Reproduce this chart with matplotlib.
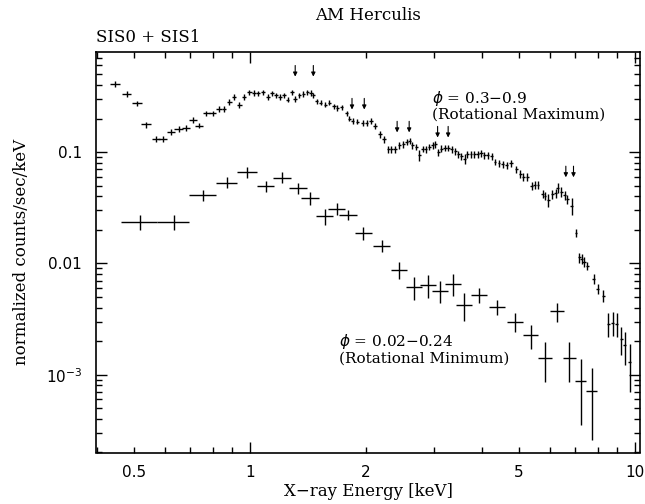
import matplotlib

matplotlib.use("Agg")
import matplotlib.pyplot as plt
from matplotlib.ticker import NullFormatter

# rotational maximum (phi = 0.3-0.9): energy [keV], half bin width, flux, flux error
hi_e = [0.446, 0.478, 0.508, 0.537, 0.570, 0.593, 0.622, 0.652, 0.682, 0.710,
        0.738, 0.769, 0.800, 0.832, 0.856, 0.884, 0.909, 0.938, 0.966,
        0.996, 1.024, 1.051, 1.079, 1.112, 1.139, 1.168, 1.196, 1.225, 1.253,
        1.283, 1.309, 1.343, 1.375, 1.409, 1.440, 1.460, 1.490, 1.526, 1.566,
        1.607, 1.652, 1.685, 1.729, 1.782, 1.810, 1.847, 1.900, 1.962, 2.010,
        2.058, 2.110, 2.177, 2.228, 2.287, 2.330, 2.380, 2.440, 2.500, 2.550,
        2.600, 2.640, 2.700, 2.750, 2.810, 2.860, 2.920, 2.980, 3.030, 3.080,
        3.140, 3.210, 3.270, 3.340, 3.410, 3.470, 3.540, 3.610, 3.670, 3.750,
        3.820, 3.900, 3.980, 4.060, 4.140, 4.240, 4.330, 4.430, 4.530, 4.640,
        4.760, 4.910, 5.030, 5.130, 5.250, 5.390, 5.490, 5.600, 5.750, 5.830,
        5.950, 6.100, 6.220, 6.300, 6.430, 6.560, 6.670, 6.840, 7.030, 7.170,
        7.270, 7.370, 7.520, 7.820, 7.990, 8.260, 8.520, 8.740, 8.960, 9.220,
        9.400, 9.680]
hi_de = [0.013, 0.014, 0.015, 0.016, 0.015, 0.015, 0.015, 0.016, 0.016, 0.017,
         0.017, 0.016, 0.016, 0.014, 0.012, 0.012, 0.012, 0.013, 0.013,
         0.013, 0.013, 0.013, 0.013, 0.013, 0.013, 0.013, 0.013, 0.013, 0.013,
         0.014, 0.014, 0.014, 0.014, 0.014, 0.014, 0.014, 0.014, 0.014, 0.014,
         0.016, 0.016, 0.016, 0.016, 0.016, 0.016, 0.016, 0.016, 0.016, 0.016,
         0.022, 0.022, 0.022, 0.022, 0.022, 0.022, 0.022, 0.022, 0.022, 0.022,
         0.026, 0.026, 0.026, 0.026, 0.026, 0.026, 0.026, 0.026, 0.026, 0.026,
         0.031, 0.031, 0.031, 0.031, 0.031, 0.031, 0.031, 0.031, 0.031, 0.031,
         0.036, 0.036, 0.036, 0.036, 0.036, 0.036, 0.036, 0.036, 0.036, 0.036,
         0.045, 0.045, 0.045, 0.045, 0.045, 0.045, 0.045, 0.045, 0.045, 0.045,
         0.055, 0.055, 0.055, 0.055, 0.055, 0.055, 0.055, 0.055, 0.055, 0.055,
         0.070, 0.070, 0.070, 0.070, 0.070, 0.070, 0.070, 0.070, 0.070, 0.070,
         0.070, 0.070]
hi_f = [0.410, 0.333, 0.273, 0.177, 0.130, 0.130, 0.151, 0.160, 0.165, 0.193,
        0.173, 0.222, 0.222, 0.245, 0.245, 0.280, 0.313, 0.263, 0.311,
        0.344, 0.340, 0.336, 0.344, 0.313, 0.336, 0.322, 0.313, 0.322, 0.296,
        0.344, 0.300, 0.322, 0.333, 0.344, 0.340, 0.322, 0.286, 0.277, 0.267,
        0.277, 0.258, 0.250, 0.253, 0.222, 0.200, 0.190, 0.187, 0.183, 0.183,
        0.190, 0.173, 0.144, 0.130, 0.106, 0.106, 0.106, 0.115, 0.117, 0.123,
        0.125, 0.115, 0.112, 0.0934, 0.107, 0.106, 0.112, 0.115, 0.117, 0.100,
        0.107, 0.109, 0.109, 0.106, 0.102, 0.0954, 0.092, 0.0873, 0.0954, 0.0954,
        0.0954, 0.0954, 0.0974, 0.0934, 0.0934, 0.092, 0.0814, 0.079, 0.0776, 0.076,
        0.079, 0.070, 0.0632, 0.060, 0.060, 0.0496, 0.0504, 0.0504, 0.0418, 0.0404,
        0.0372, 0.0418, 0.0427, 0.048, 0.0439, 0.041, 0.0377, 0.033, 0.0187, 0.0113,
        0.011, 0.0103, 0.0095, 0.00727, 0.0059, 0.00514, 0.00287, 0.00293, 0.00287, 0.0021,
        0.00183, 0.0013]
hi_df = [0.025, 0.020, 0.016, 0.011, 0.008, 0.008, 0.009, 0.010, 0.010, 0.012,
         0.010, 0.013, 0.013, 0.015, 0.015, 0.017, 0.019, 0.016, 0.019,
         0.019, 0.019, 0.018, 0.019, 0.017, 0.018, 0.018, 0.017, 0.018, 0.016,
         0.019, 0.017, 0.018, 0.018, 0.019, 0.019, 0.018, 0.016, 0.015, 0.015,
         0.015, 0.014, 0.014, 0.014, 0.012, 0.011, 0.011, 0.010, 0.010, 0.010,
         0.012, 0.011, 0.009, 0.0085, 0.007, 0.007, 0.007, 0.0075, 0.0076, 0.008,
         0.008, 0.0075, 0.0073, 0.010, 0.007, 0.007, 0.0073, 0.0075, 0.0076, 0.0075,
         0.0075, 0.0076, 0.0076, 0.0074, 0.0071, 0.0067, 0.0064, 0.009, 0.0067, 0.0067,
         0.0067, 0.0067, 0.0068, 0.0065, 0.0065, 0.0064, 0.0057, 0.0055, 0.0054, 0.0053,
         0.0063, 0.0056, 0.0051, 0.0048, 0.0048, 0.004, 0.004, 0.004, 0.0034, 0.0032,
         0.005, 0.0042, 0.0043, 0.0048, 0.0044, 0.0041, 0.0038, 0.0056, 0.0016, 0.0012,
         0.0012, 0.0011, 0.0007, 0.0008, 0.0006, 0.0006, 0.0007, 0.0007, 0.0007, 0.0006,
         0.0006, 0.0006]

# rotational minimum (phi = 0.02-0.24)
lo_e = [0.517, 0.634, 0.755, 0.870, 0.984, 1.098, 1.213, 1.335, 1.432, 1.565,
        1.680, 1.800, 1.968, 2.198, 2.443, 2.667, 2.905, 3.115, 3.373, 3.593,
        3.940, 4.390, 4.880, 5.360, 5.840, 6.280, 6.750, 7.220, 7.720]
lo_de = [0.055, 0.061, 0.060, 0.055, 0.057, 0.057, 0.063, 0.069, 0.074, 0.081,
         0.087, 0.093, 0.10, 0.11, 0.12, 0.13, 0.14, 0.15, 0.16, 0.17,
         0.19, 0.21, 0.23, 0.24, 0.23, 0.25, 0.27, 0.25, 0.25]
lo_f = [0.0236, 0.0236, 0.0412, 0.0532, 0.0662, 0.0496, 0.059, 0.0473, 0.0385, 0.0264,
        0.0311, 0.0273, 0.0187, 0.0144, 0.00879, 0.00611, 0.00641, 0.0057, 0.00655, 0.00425,
        0.00521, 0.00404, 0.0030, 0.00225, 0.00141, 0.0037, 0.00141, 0.00087, 0.00071]
lo_df = [0.0035, 0.0035, 0.0045, 0.006, 0.0074, 0.0055, 0.0065, 0.0052, 0.005, 0.0041,
         0.004, 0.003, 0.0024, 0.0017, 0.0016, 0.0014, 0.0015, 0.0013, 0.0015, 0.0012,
         0.0008, 0.00063, 0.0006, 0.00056, 0.00055, 0.00075, 0.00055, 0.00052, 0.00045]

# line markers (arrow tips)
arrow_e = [1.31, 1.46, 1.84, 1.98, 2.41, 2.59, 3.07, 3.27, 6.61, 6.92]
arrow_f = [0.476, 0.476, 0.241, 0.241, 0.150, 0.150, 0.135, 0.135, 0.0593, 0.0593]

x_major = [1, 10]
x_minor = [0.4, 0.5, 0.6, 0.7, 0.8, 0.9, 2, 3, 4, 5, 6, 7, 8, 9]
x_minor_labels = ["", "0.5", "", "", "", "", "2", "", "", "5", "", "", "", ""]
y_major = [1e-3, 1e-2, 1e-1]
y_major_labels = ["$10^{-3}$", "0.01", "0.1"]
y_minor = [2e-4, 3e-4, 4e-4, 5e-4, 6e-4, 7e-4, 8e-4, 9e-4,
           2e-3, 3e-3, 4e-3, 5e-3, 6e-3, 7e-3, 8e-3, 9e-3,
           0.02, 0.03, 0.04, 0.05, 0.06, 0.07, 0.08, 0.09,
           0.2, 0.3, 0.4, 0.5, 0.6, 0.7]

SERIF = "DejaVu Serif"
SANS = "DejaVu Sans"

fig = plt.figure(figsize=(6.45, 5.04), dpi=100, facecolor="white")
ax = fig.add_axes([96 / 645, 1 - 452.5 / 504, 544 / 645, 401 / 504])
ax.set_xscale("log")
ax.set_yscale("log")

ekw = dict(fmt="none", ecolor="black", elinewidth=1.0, capsize=0)
ax.errorbar(hi_e, hi_f, xerr=hi_de, yerr=hi_df, **ekw)
ax.errorbar(lo_e, lo_f, xerr=lo_de, yerr=lo_df, **ekw)

for e, f in zip(arrow_e, arrow_f):
    ax.annotate("", xy=(e, f), xytext=(0, 8), textcoords="offset points",
                arrowprops=dict(arrowstyle="-|>", color="black", lw=0.8,
                                mutation_scale=6, shrinkA=0, shrinkB=0))

ax.set_xlim(0.398, 10.3)
ax.set_ylim(2.04e-4, 0.80)

ax.set_xticks(x_major, labels=["1", "10"])
ax.set_xticks(x_minor, labels=x_minor_labels, minor=True)
ax.set_yticks(y_major, labels=y_major_labels)
ax.set_yticks(y_minor, minor=True)
ax.yaxis.set_minor_formatter(NullFormatter())
ax.tick_params(which="both", direction="in", top=True, right=True,
               width=1.0, labelsize=11, colors="black")
ax.tick_params(which="major", length=8)
ax.tick_params(which="minor", length=4)
ax.tick_params(axis="x", which="both", pad=9)
ax.tick_params(axis="y", which="both", pad=10)
for lab in ax.get_xticklabels(which="both") + ax.get_yticklabels():
    lab.set_family(SANS)
for sp in ax.spines.values():
    sp.set_linewidth(1.2)

ax.set_xlabel("X\u2212ray Energy [keV]", family=SERIF, fontsize=12, labelpad=2)
ax.set_ylabel("normalized counts/sec/keV", family=SERIF, fontsize=12, labelpad=11)

ax.text(0.617, 0.883, "$\\phi$ = 0.3\u22120.9", transform=ax.transAxes,
        family=SERIF, fontsize=11, ha="left", va="center")
ax.text(0.617, 0.842, "(Rotational Maximum)", transform=ax.transAxes,
        family=SERIF, fontsize=11, ha="left", va="center")
ax.text(0.447, 0.276, "$\\phi$ = 0.02\u22120.24", transform=ax.transAxes,
        family=SERIF, fontsize=11, ha="left", va="center")
ax.text(0.447, 0.235, "(Rotational Minimum)", transform=ax.transAxes,
        family=SERIF, fontsize=11, ha="left", va="center")

fig.text(368 / 645, 1 - 16 / 504, "AM Herculis", family=SERIF, fontsize=12,
         ha="center", va="center")
fig.text(96 / 645, 1 - 38 / 504, "SIS0 + SIS1", family=SERIF, fontsize=12,
         ha="left", va="center")

fig.savefig("out.png", dpi=100, facecolor="white")
